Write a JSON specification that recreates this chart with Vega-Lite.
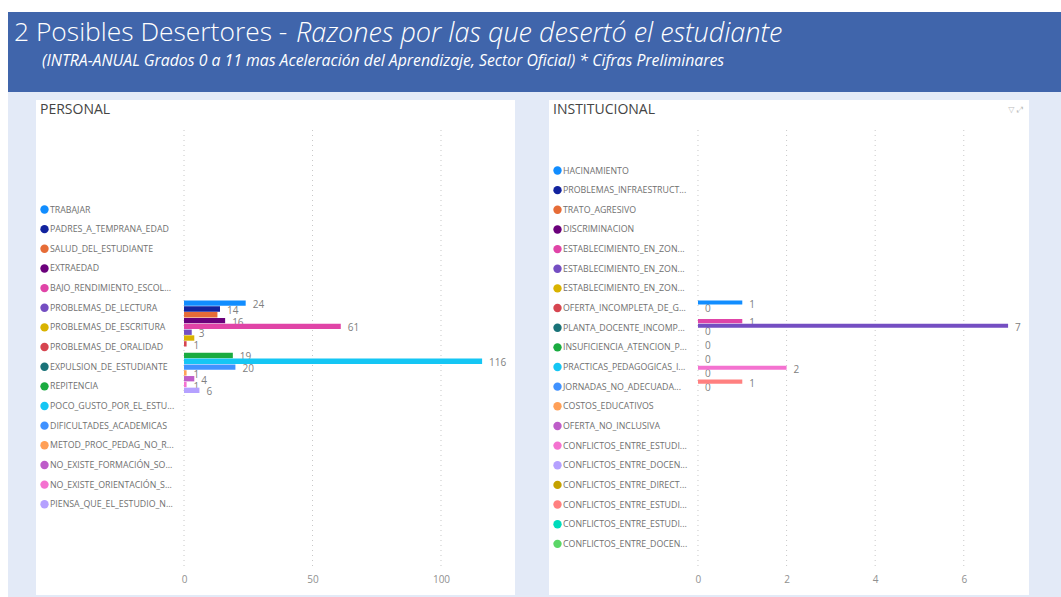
{
"$schema":"https://vega.github.io/schema/vega-lite/v6.json",
"padding":0,
"background":"#e3eaf7",
"spacing":0,
"title":{"text":"Razones por las que desertó el estudiante","anchor":"start","frame":"group","dx":296,"offset":-48,"fontSize":27,"font":"Open Sans","fontWeight":300,"fontStyle":"italic","color":"#ffffff"},
"config":{"view":{"stroke":null},"font":"Open Sans","concat":{"spacing":0}},
"datasets":{
"personal":[
{"razon":"TRABAJAR","valor":24,"etiqueta":24},
{"razon":"PADRES_A_TEMPRANA_EDAD","valor":14,"etiqueta":14},
{"razon":"SALUD_DEL_ESTUDIANTE","valor":13,"etiqueta":null},
{"razon":"EXTRAEDAD","valor":16,"etiqueta":16},
{"razon":"BAJO_RENDIMIENTO_ESCOL...","valor":61,"etiqueta":61},
{"razon":"PROBLEMAS_DE_LECTURA","valor":3,"etiqueta":3},
{"razon":"PROBLEMAS_DE_ESCRITURA","valor":4,"etiqueta":null},
{"razon":"PROBLEMAS_DE_ORALIDAD","valor":1,"etiqueta":1},
{"razon":"EXPULSION_DE_ESTUDIANTE","valor":null,"etiqueta":null},
{"razon":"REPITENCIA","valor":19,"etiqueta":19},
{"razon":"POCO_GUSTO_POR_EL_ESTU...","valor":116,"etiqueta":116},
{"razon":"DIFICULTADES_ACADEMICAS","valor":20,"etiqueta":20},
{"razon":"METOD_PROC_PEDAG_NO_R...","valor":1,"etiqueta":1},
{"razon":"NO_EXISTE_FORMACIÓN_SO...","valor":4,"etiqueta":4},
{"razon":"NO_EXISTE_ORIENTACIÓN_S...","valor":1,"etiqueta":1},
{"razon":"PIENSA_QUE_EL_ESTUDIO_N...","valor":6,"etiqueta":6}
],
"institucional":[
{"razon":"HACINAMIENTO","valor":1,"etiqueta":1},
{"razon":"PROBLEMAS_INFRAESTRUCT...","valor":0,"etiqueta":0},
{"razon":"TRATO_AGRESIVO","valor":null,"etiqueta":null},
{"razon":"DISCRIMINACION","valor":null,"etiqueta":null},
{"razon":"ESTABLECIMIENTO_EN_ZON... ","valor":1,"etiqueta":1},
{"razon":"ESTABLECIMIENTO_EN_ZON...  ","valor":7,"etiqueta":7},
{"razon":"ESTABLECIMIENTO_EN_ZON...","valor":0,"etiqueta":0},
{"razon":"OFERTA_INCOMPLETA_DE_G...","valor":null,"etiqueta":null},
{"razon":"PLANTA_DOCENTE_INCOMP...","valor":null,"etiqueta":null},
{"razon":"INSUFICIENCIA_ATENCION_P...","valor":0,"etiqueta":0},
{"razon":"PRACTICAS_PEDAGOGICAS_I...","valor":null,"etiqueta":null},
{"razon":"JORNADAS_NO_ADECUADA...","valor":null,"etiqueta":null},
{"razon":"COSTOS_EDUCATIVOS","valor":0,"etiqueta":0},
{"razon":"OFERTA_NO_INCLUSIVA","valor":null,"etiqueta":null},
{"razon":"CONFLICTOS_ENTRE_ESTUDI...","valor":2,"etiqueta":2},
{"razon":"CONFLICTOS_ENTRE_DOCEN...","valor":0,"etiqueta":0},
{"razon":"CONFLICTOS_ENTRE_DIRECT...","valor":null,"etiqueta":null},
{"razon":"CONFLICTOS_ENTRE_ESTUDI... ","valor":1,"etiqueta":1},
{"razon":"CONFLICTOS_ENTRE_ESTUDI...  ","valor":0,"etiqueta":0},
{"razon":"CONFLICTOS_ENTRE_DOCEN... ","valor":null,"etiqueta":null}
],
"guia1":[{"marca":0},{"marca":50},{"marca":100}],
"guia2":[{"marca":0},{"marca":2},{"marca":4},{"marca":6}]
},
"resolve":{"scale":{"color":"independent"},"legend":{"color":"independent"}},
"vconcat":[
{"width":1061,"height":12,"data":{"values":[{}]},"mark":{"type":"rect","color":"#ffffff"},"encoding":{}},
{"spacing":0,
"resolve":{"scale":{"color":"independent"},"legend":{"color":"independent"}},
"hconcat":[
{"width":8,"height":585,"data":{"values":[{}]},"mark":{"type":"rect","color":"#ffffff"},"encoding":{}},
{"spacing":8,
"title":{"text":"(INTRA-ANUAL Grados 0 a 11 mas Aceleración del Aprendizaje, Sector Oficial) * Cifras Preliminares","anchor":"start","frame":"group","dx":34,"offset":-58,"fontSize":15.8,"font":"Open Sans","fontWeight":"normal","fontStyle":"italic","color":"#ffffff"},
"resolve":{"scale":{"color":"independent"},"legend":{"color":"independent"}},
"vconcat":[
{"width":1053,"height":80,"data":{"values":[{}]},
"title":{"text":"2 Posibles Desertores - ","anchor":"start","frame":"group","dx":6,"offset":-34,"fontSize":26.4,"font":"Open Sans","fontWeight":300,"color":"#ffffff"},
"mark":{"type":"rect","color":"#4065ab"},"encoding":{}},
{"spacing":0,
"resolve":{"scale":{"color":"independent"},"legend":{"color":"independent"}},
"hconcat":[
{"width":28,"height":495,"data":{"values":[{}]},"mark":{"type":"rect","color":"#e3eaf7"},"encoding":{}},
{"spacing":34,
"resolve":{"scale":{"color":"independent"},"legend":{"color":"independent"}},
"hconcat":[
{"width":479,"height":495,
"view":{"fill":"#ffffff"},
"title":{"text":"PERSONAL","anchor":"start","frame":"group","dx":4,"offset":-17,"fontSize":14,"font":"Open Sans","fontWeight":"normal","color":"#444444"},
"resolve":{"scale":{"y":"independent"}},
"layer":[
{"data":{"name":"guia1"},"mark":{"type":"rule","color":"#c8c8c8","strokeDash":[1,4],"strokeWidth":1},
"encoding":{"x":{"field":"marca","type":"quantitative","scale":{"domain":[-57.6,128.8],"nice":false,"zero":false},"axis":{"values":[0,50,100],"title":null,"grid":false,"domain":false,"ticks":false,"offset":-23,"labelFont":"Open Sans","labelFontSize":10,"labelColor":"#909090","labelPadding":2}},
"y":{"datum":30,"type":"quantitative","scale":{"domain":[0,495],"range":[0,495]},"axis":null},"y2":{"datum":470}}},
{"data":{"name":"personal"},"transform":[{"filter":{"field":"etiqueta","valid":true}}],
"mark":{"type":"text","align":"left","baseline":"middle","dx":7,"dy":2,"fontSize":10,"font":"Open Sans","color":"#808080"},
"encoding":{"x":{"field":"valor","type":"quantitative"},"y":{"field":"razon","type":"nominal","sort":null,"axis":null,"scale":{"type":"band","domain":{"data":"personal","field":"razon"},"range":[200.5,293],"paddingInner":0.08,"paddingOuter":0}},"text":{"field":"etiqueta","type":"quantitative"}}},
{"data":{"name":"personal"},"mark":{"type":"bar"},
"encoding":{"x":{"field":"valor","type":"quantitative"},"y":{"field":"razon","type":"nominal","sort":null,"axis":null,"scale":{"type":"band","domain":{"data":"personal","field":"razon"},"range":[200.5,293],"paddingInner":0.08,"paddingOuter":0}},
"color":{"field":"razon","type":"nominal","scale":{"domain":["TRABAJAR","PADRES_A_TEMPRANA_EDAD","SALUD_DEL_ESTUDIANTE","EXTRAEDAD","BAJO_RENDIMIENTO_ESCOL...","PROBLEMAS_DE_LECTURA","PROBLEMAS_DE_ESCRITURA","PROBLEMAS_DE_ORALIDAD","EXPULSION_DE_ESTUDIANTE","REPITENCIA","POCO_GUSTO_POR_EL_ESTU...","DIFICULTADES_ACADEMICAS","METOD_PROC_PEDAG_NO_R...","NO_EXISTE_FORMACIÓN_SO...","NO_EXISTE_ORIENTACIÓN_S...","PIENSA_QUE_EL_ESTUDIO_N..."],"range":["#118DFF","#12239E","#E66C37","#6B007B","#E044A7","#744EC2","#D9B300","#D64550","#197278","#1AAB40","#15C6F4","#4092FF","#FFA058","#BE5DC9","#F472D0","#B5A1FF"]},
"legend":{"title":null,"orient":"none","legendX":4,"legendY":105,"symbolType":"circle","symbolSize":70,"symbolStrokeWidth":0,"labelFont":"Open Sans","labelFontSize":8.8,"labelColor":"#707070","labelLimit":140,"labelOffset":1,"rowPadding":9.65,"symbolOpacity":1}}}}
]},
{"width":480,"height":495,
"view":{"fill":"#ffffff"},
"title":{"text":"INSTITUCIONAL","anchor":"start","frame":"group","dx":4,"offset":-17,"fontSize":14,"font":"Open Sans","fontWeight":"normal","color":"#444444"},
"resolve":{"scale":{"y":"independent"}},
"layer":[
{"data":{"name":"guia2"},"mark":{"type":"rule","color":"#c8c8c8","strokeDash":[1,4],"strokeWidth":1},
"encoding":{"x":{"field":"marca","type":"quantitative","scale":{"domain":[-3.363,7.472],"nice":false,"zero":false},"axis":{"values":[0,2,4,6],"title":"▽ ⤢","titleX":466,"titleY":-467,"titleFont":"DejaVu Sans","titleFontSize":8,"titleFontWeight":"normal","titleColor":"#bdbdbd","grid":false,"domain":false,"ticks":false,"offset":-23,"labelFont":"Open Sans","labelFontSize":10,"labelColor":"#909090","labelPadding":2}},
"y":{"datum":30,"type":"quantitative","scale":{"domain":[0,495],"range":[0,495]},"axis":null},"y2":{"datum":470}}},
{"data":{"name":"institucional"},"transform":[{"filter":{"field":"etiqueta","valid":true}}],
"mark":{"type":"text","align":"left","baseline":"middle","dx":7,"dy":2,"fontSize":10,"font":"Open Sans","color":"#808080"},
"encoding":{"x":{"field":"valor","type":"quantitative"},"y":{"field":"razon","type":"nominal","sort":null,"axis":null,"scale":{"type":"band","domain":{"data":"institucional","field":"razon"},"range":[200.5,293],"paddingInner":0.12,"paddingOuter":0}},"text":{"field":"etiqueta","type":"quantitative"}}},
{"data":{"name":"institucional"},"mark":{"type":"bar"},
"encoding":{"x":{"field":"valor","type":"quantitative"},"y":{"field":"razon","type":"nominal","sort":null,"axis":null,"scale":{"type":"band","domain":{"data":"institucional","field":"razon"},"range":[200.5,293],"paddingInner":0.12,"paddingOuter":0}},
"color":{"field":"razon","type":"nominal","scale":{"domain":["HACINAMIENTO","PROBLEMAS_INFRAESTRUCT...","TRATO_AGRESIVO","DISCRIMINACION","ESTABLECIMIENTO_EN_ZON... ","ESTABLECIMIENTO_EN_ZON...  ","ESTABLECIMIENTO_EN_ZON...","OFERTA_INCOMPLETA_DE_G...","PLANTA_DOCENTE_INCOMP...","INSUFICIENCIA_ATENCION_P...","PRACTICAS_PEDAGOGICAS_I...","JORNADAS_NO_ADECUADA...","COSTOS_EDUCATIVOS","OFERTA_NO_INCLUSIVA","CONFLICTOS_ENTRE_ESTUDI...","CONFLICTOS_ENTRE_DOCEN...","CONFLICTOS_ENTRE_DIRECT...","CONFLICTOS_ENTRE_ESTUDI... ","CONFLICTOS_ENTRE_ESTUDI...  ","CONFLICTOS_ENTRE_DOCEN... "],"range":["#118DFF","#12239E","#E66C37","#6B007B","#E044A7","#744EC2","#D9B300","#D64550","#197278","#1AAB40","#15C6F4","#4092FF","#FFA058","#BE5DC9","#F472D0","#B5A1FF","#C4A200","#FF8080","#00DBBC","#5BD667"]},
"legend":{"title":null,"orient":"none","legendX":4,"legendY":66,"symbolType":"circle","symbolSize":70,"symbolStrokeWidth":0,"labelFont":"Open Sans","labelFontSize":8.8,"labelColor":"#707070","labelLimit":140,"labelOffset":1,"rowPadding":9.65,"symbolOpacity":1}}}}
]}
]}
]}
]}
]}
]
}
